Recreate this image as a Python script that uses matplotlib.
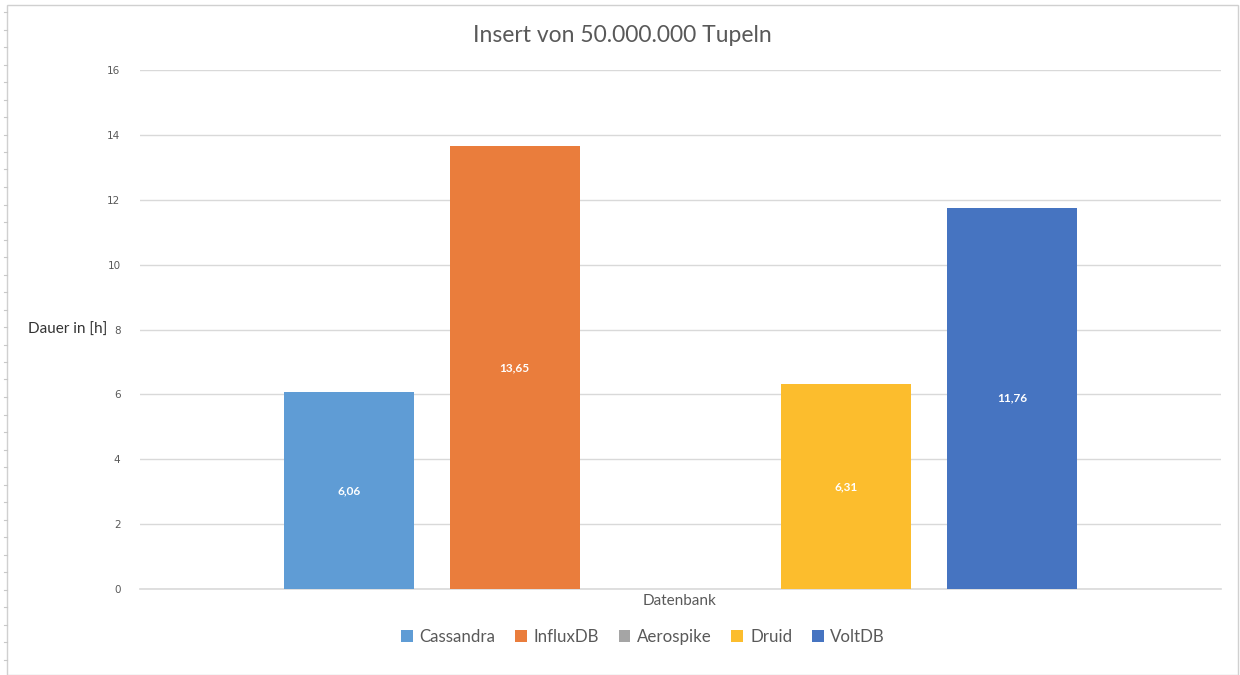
import numpy as np
import matplotlib.pyplot as plt
from matplotlib.patches import Rectangle

plt.rcParams['font.family'] = ['Lato', 'DejaVu Sans']

datenbanken = ['Cassandra', 'InfluxDB', 'Aerospike', 'Druid', 'VoltDB']
dauer = [6.06, 13.65, 0.0, 6.31, 11.76]
farben = ['#5f9cd5', '#ea7d3c', '#a5a5a5', '#fcbd2d', '#4674c1']
yticks = [0, 2, 4, 6, 8, 10, 12, 14, 16]

grau = '#595959'

fig = plt.figure(figsize=(12.4, 6.75), dpi=100)
ax = fig.add_axes([140 / 1240, 1 - 589 / 675, 1081 / 1240, 519 / 675])

x = np.arange(len(datenbanken))
for i, (name, v, c) in enumerate(zip(datenbanken, dauer, farben)):
    ax.bar(x[i], v, width=130 / 166, color=c, label=name, zorder=3)
    if v > 0:
        ax.text(x[i], v / 2, f'{v:.2f}'.replace('.', ','), ha='center', va='center',
                color='white', fontsize=8.5, fontweight='bold', zorder=4)

ax.set_xlim(-1.259, 5.259)
ax.set_ylim(0, 16)
ax.set_yticks(yticks)
ax.set_yticklabels([str(t) for t in yticks], fontsize=7.5, color=grau, family='DejaVu Sans')
ax.set_xticks([])
ax.tick_params(axis='y', length=0, pad=14)
ax.grid(axis='y', color='#d9d9d9', linewidth=1, zorder=0)
ax.axhline(0, color='#d9d9d9', linewidth=1.2, zorder=2, clip_on=False)
for s in ax.spines.values():
    s.set_visible(False)

fig.text(622 / 1240, 1 - 36 / 675, 'Insert von 50.000.000 Tupeln', fontsize=16.5,
         color=grau, ha='center', va='center')
fig.text(28 / 1240, 1 - 330 / 675, 'Dauer in [h]', fontsize=11, color='#333333',
         ha='left', va='center')
fig.text(680 / 1240, 1 - 601 / 675, 'Datenbank', fontsize=11, color=grau,
         ha='center', va='center')

leg = fig.legend(loc='center', bbox_to_anchor=(643 / 1240, 1 - 637 / 675), ncol=5,
                 frameon=False, fontsize=12.2, handlelength=0.7, handleheight=0.7,
                 handletextpad=0.4, columnspacing=1.15)
for t in leg.get_texts():
    t.set_color(grau)

# Rahmen und Lineal am linken Rand
fig.add_artist(Rectangle((7 / 1240, 0), 1231 / 1240, 1 - 5 / 675, transform=fig.transFigure,
                         fill=False, edgecolor='#d0d0d0', linewidth=1))
for yy in np.arange(12, 675, 17.5):
    fig.add_artist(plt.Line2D([4 / 1240, 7 / 1240], [1 - yy / 675, 1 - yy / 675],
                              transform=fig.transFigure, color='#c8c8c8', linewidth=0.8))

fig.savefig('out.png', dpi=100)
